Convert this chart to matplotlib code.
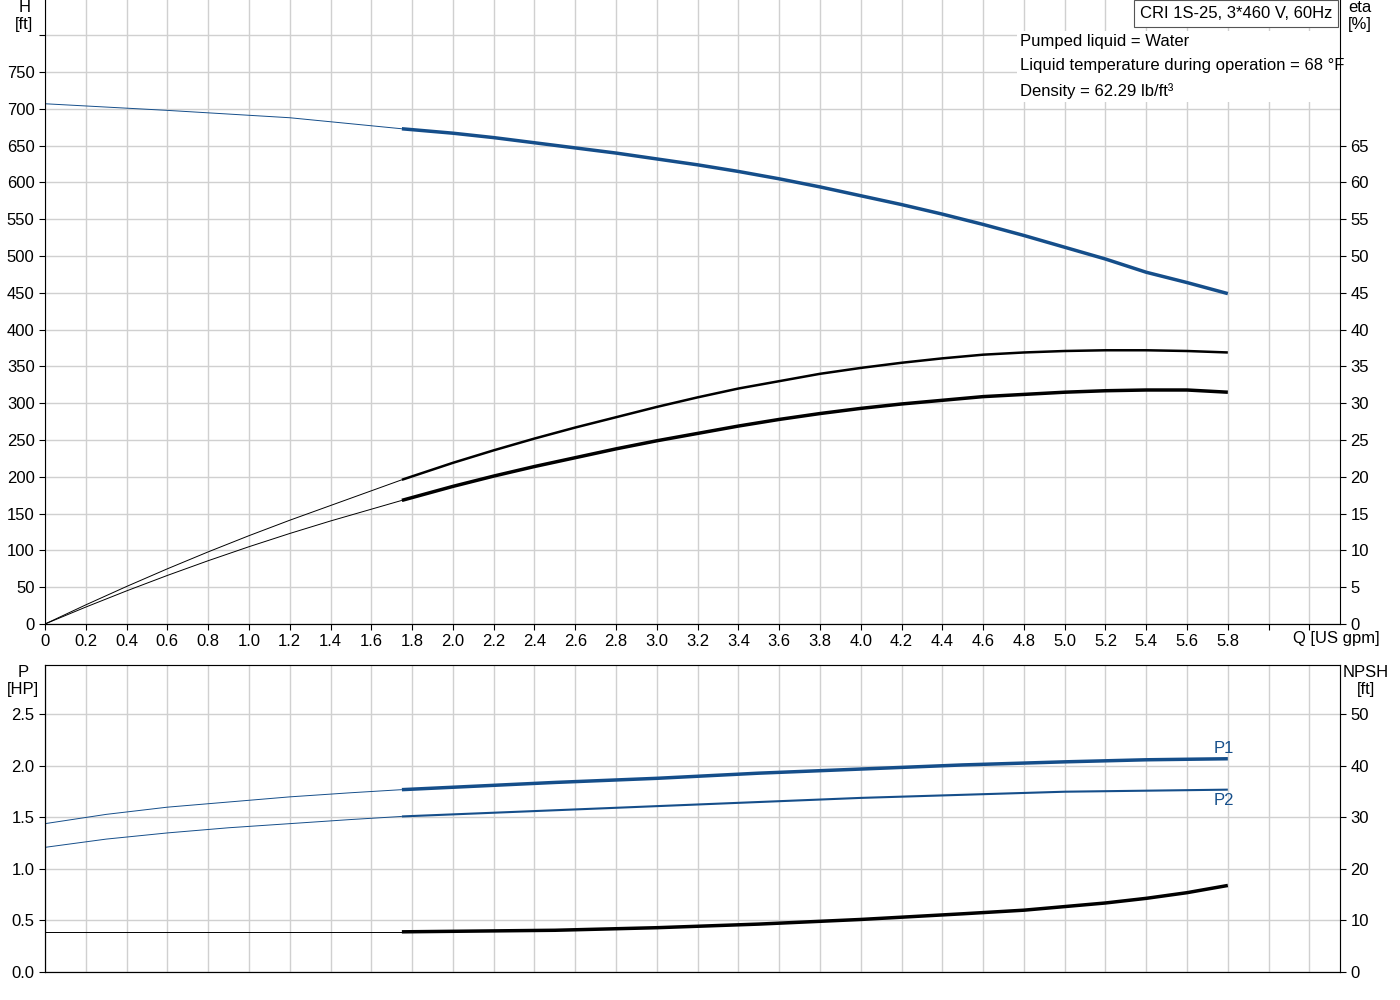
import matplotlib
matplotlib.use("Agg")
import matplotlib.pyplot as plt
import numpy as np

plt.rcParams['font.family'] = ['Liberation Sans', 'DejaVu Sans']
BLUE = '#154e8a'
FS = 12

q_h = [0, 0.6, 1.2, 1.75, 2.0, 2.2, 2.4, 2.6, 2.8, 3.0, 3.2, 3.4, 3.6, 3.8, 4.0, 4.2, 4.4, 4.6, 4.8, 5.0, 5.2, 5.4, 5.6, 5.8]
head = [707, 698, 688, 673, 667, 661, 654, 647, 640, 632, 624, 615, 605, 594, 582, 570, 557, 543, 528, 512, 496, 478, 464, 449]
q_e = [0, 0.2, 0.4, 0.6, 0.8, 1.0, 1.2, 1.4, 1.75, 2.0, 2.2, 2.4, 2.6, 2.8, 3.0, 3.2, 3.4, 3.6, 3.8, 4.0, 4.2, 4.4, 4.6, 4.8, 5.0, 5.2, 5.4, 5.6, 5.8]
eta1 = [0, 2.6, 5.1, 7.5, 9.8, 12.0, 14.1, 16.1, 19.6, 21.9, 23.6, 25.2, 26.7, 28.1, 29.5, 30.8, 32.0, 33.0, 34.0, 34.8, 35.5, 36.1, 36.6, 36.9, 37.1, 37.2, 37.2, 37.1, 36.9]
eta2 = [0, 2.3, 4.5, 6.6, 8.6, 10.5, 12.3, 14.0, 16.8, 18.7, 20.1, 21.4, 22.6, 23.8, 24.9, 25.9, 26.9, 27.8, 28.6, 29.3, 29.9, 30.4, 30.9, 31.2, 31.5, 31.7, 31.8, 31.8, 31.5]
q_p = [0, 0.3, 0.6, 0.9, 1.2, 1.5, 1.75, 2.5, 3.0, 3.5, 4.0, 4.5, 5.0, 5.4, 5.8]
p1 = [1.44, 1.53, 1.60, 1.65, 1.70, 1.74, 1.77, 1.84, 1.88, 1.93, 1.97, 2.01, 2.04, 2.06, 2.07]
p2 = [1.21, 1.29, 1.35, 1.40, 1.44, 1.48, 1.51, 1.57, 1.61, 1.65, 1.69, 1.72, 1.75, 1.76, 1.77]
q_n = [0, 1.75, 2.5, 3.0, 3.5, 4.0, 4.5, 4.8, 5.0, 5.2, 5.4, 5.6, 5.8]
npsh = [7.8, 7.8, 8.1, 8.6, 9.3, 10.2, 11.3, 12.0, 12.7, 13.4, 14.3, 15.4, 16.8]
SPLIT = 1.75

fig = plt.figure(figsize=(14, 10), dpi=100)
ax = fig.add_axes([45/1400, 0.376, 1295/1400, 0.624])
bx = fig.add_axes([45/1400, 0.028, 1295/1400, 0.307])
XMAX = 6.35

def split_plot(a, xs, ys, color, lw):
    xs = np.array(xs); ys = np.array(ys)
    i = int(np.where(xs == SPLIT)[0][0])
    a.plot(xs[:i+1], ys[:i+1], color=color, lw=0.7, solid_capstyle='butt')
    a.plot(xs[i:], ys[i:], color=color, lw=lw, solid_capstyle='butt', solid_joinstyle='round')

for a in (ax, bx):
    a.set_xlim(0, XMAX)
    a.set_xticks(np.arange(0, 6.3, 0.2))
    a.grid(True, color='#d0d0d0', lw=1)
    a.set_axisbelow(True)
    for s in ('top', 'right'):
        a.spines[s].set_color('#888888')
    a.tick_params(labelsize=FS, direction='out', length=4)

ax.set_ylim(0, 848)
ax.set_yticks(np.arange(0, 801, 50))
ax.set_yticklabels([str(v) if v <= 750 else '' for v in range(0, 801, 50)])
ax.set_xticklabels(['0'] + [f'{v:.1f}' for v in np.arange(0.2, 6.3, 0.2)])
for lab in ax.get_xticklabels()[30:]:
    lab.set_visible(False)
ax.spines['right'].set_visible(False)
ax.spines['top'].set_visible(False)
split_plot(ax, q_h, head, BLUE, 2.5)
ax2 = ax.twinx()
ax2.set_ylim(0, 84.8)
ax2.set_yticks(np.arange(0, 66, 5))
ax2.tick_params(labelsize=FS, length=4)
for s in ('top', 'left'):
    ax2.spines[s].set_visible(False)
ax2.set_xlim(0, XMAX)
split_plot(ax2, q_e, eta1, 'black', 1.8)
split_plot(ax2, q_e, eta2, 'black', 2.5)
ax.text(-0.016, 1.0, 'H\n[ft]', transform=ax.transAxes, ha='center', va='top', fontsize=FS)
ax.text(1.015, 1.0, 'eta\n[%]', transform=ax.transAxes, ha='center', va='top', fontsize=FS)
ax.text(6.12, -9, 'Q [US gpm]', ha='left', va='top', fontsize=FS, clip_on=False)
ax.text(0.994, 0.99, 'CRI 1S-25, 3*460 V, 60Hz', transform=ax.transAxes, ha='right', va='top',
        fontsize=FS, bbox=dict(boxstyle='square,pad=0.35', fc='white', ec='#555555', lw=0.8))
ax.text(0.753, 0.945, 'Pumped liquid = Water\nLiquid temperature during operation = 68 °F\nDensity = 62.29 lb/ft³',
        transform=ax.transAxes, ha='left', va='top', fontsize=FS, linespacing=1.75,
        bbox=dict(fc='white', ec='none', pad=2))

bx.set_ylim(0, 2.98)
bx.set_yticks(np.arange(0, 2.51, 0.5))
bx.set_yticklabels([f'{v:.1f}' for v in np.arange(0, 2.51, 0.5)])
bx.set_xticklabels([])
bx.tick_params(axis='x', length=0)
split_plot(bx, q_p, p1, BLUE, 2.5)
split_plot(bx, q_p, p2, BLUE, 1.5)
bx.text(5.73, 2.10, 'P1', color=BLUE, fontsize=FS, va='bottom')
bx.text(5.73, 1.74, 'P2', color=BLUE, fontsize=FS, va='top')
bx2 = bx.twinx()
bx2.set_ylim(0, 59.6)
bx2.set_yticks(np.arange(0, 51, 10))
bx2.tick_params(labelsize=FS, length=4)
bx2.set_xlim(0, XMAX)
split_plot(bx2, q_n, npsh, 'black', 2.5)
bx.text(-0.017, 1.0, 'P\n[HP]', transform=bx.transAxes, ha='center', va='top', fontsize=FS)
bx.text(1.02, 1.0, 'NPSH\n[ft]', transform=bx.transAxes, ha='center', va='top', fontsize=FS)

fig.savefig('out.png', dpi=100)
